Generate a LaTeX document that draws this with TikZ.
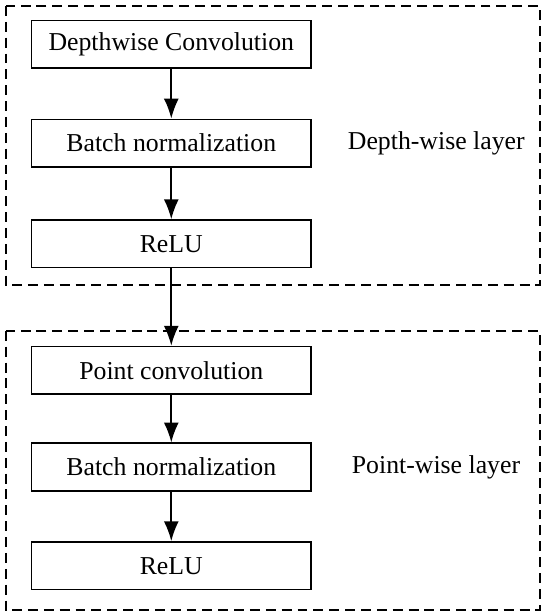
\documentclass[tikz,border=0pt]{standalone}
\usepackage{fontspec}
\setmainfont{Liberation Serif}
\usepackage{tikz}
\usetikzlibrary{arrows.meta,calc,positioning}

\begin{document}
\begin{tikzpicture}[node distance=25pt,
        blk/.style={draw,line width=0.8pt,minimum width=141pt,minimum height=24pt,
          inner sep=0pt,font=\fontsize{13}{15}\selectfont,align=center},
        lbl/.style={font=\fontsize{13}{15}\selectfont,inner sep=0pt},
        layer/.style={draw,line width=0.8pt,dash pattern=on 5pt off 3pt},
        flow/.style={-{Latex[length=10pt,width=7.5pt]},line width=0.9pt}]
        % depth-wise part
        \node[blk] (dw) {Depthwise Convolution};
        \node[blk,below=of dw] (bn1) {Batch normalization};
        \node[blk,below=26pt of bn1] (relu1) {ReLU};
        % point-wise part
        \node[blk,below=39pt of relu1] (pc) {Point convolution};
        \node[blk,below=24pt of pc] (bn2) {Batch normalization};
        \node[blk,below=of bn2] (relu2) {ReLU};
        \node[lbl,right=18pt of bn1] (dwl) {Depth-wise layer};
        \node[lbl,right=20pt of bn2] (pwl) {Point-wise layer};
        % dashed frames
        \draw[layer] ($(dw.north west)+(-12.5pt,7pt)$) rectangle ($(relu1.south east)+(115pt,-8.5pt)$);
        \draw[layer] ($(pc.north west)+(-12.5pt,7.5pt)$) rectangle ($(relu2.south east)+(115pt,-10pt)$);
        \draw[flow] (dw) -- (bn1);
        \draw[flow] (bn1) -- (relu1);
        \draw[flow] (relu1) -- (pc);
        \draw[flow] (pc) -- (bn2);
        \draw[flow] (bn2) -- (relu2);
        \useasboundingbox ($(dw.north west)+(-15.5pt,10pt)$) rectangle ($(dw.north west)+(259.5pt,-295.5pt)$);
      \end{tikzpicture}
\end{document}
